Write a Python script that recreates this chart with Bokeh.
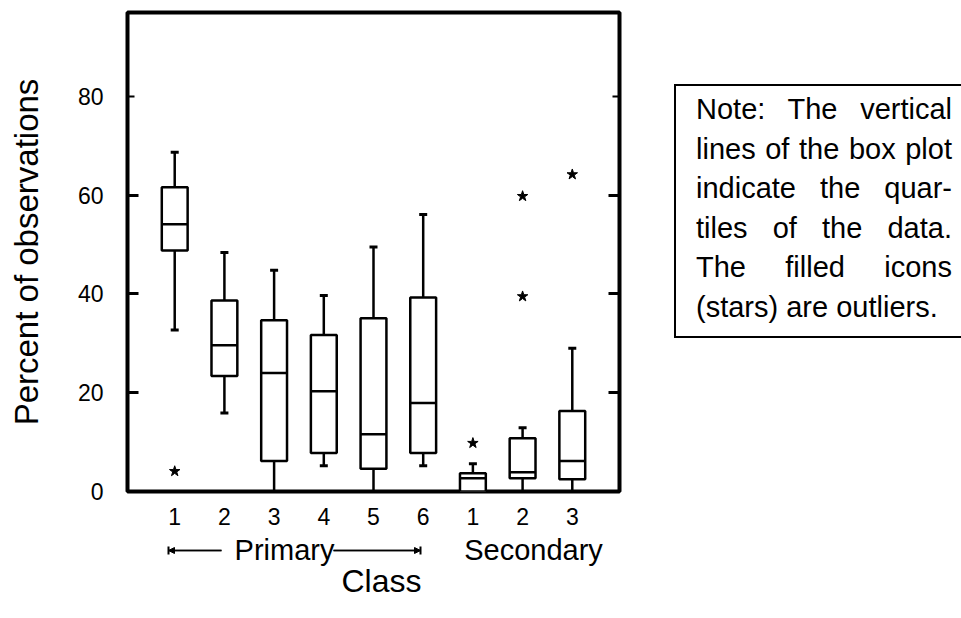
import numpy as np
from bokeh.plotting import figure
from bokeh.layouts import row, column
from bokeh.models import FixedTicker, LinearAxis, Arrow, NormalHead, TeeHead, Range1d, Div
from bokeh.core.properties import value
from bokeh.embed import file_html
from bokeh.resources import INLINE

# ---------------- data ----------------
class_labels = ["1", "2", "3", "4", "5", "6", "1", "2", "3"]
groups = ["Primary"] * 6 + ["Secondary"] * 3
group_names = ["Primary", "Secondary"]
positions = [1, 2, 3, 4, 5, 6, 7, 8, 9]
whisker_low = [32.7, 15.9, 0.0, 5.2, 0.0, 5.2, 0.0, 0.0, 0.0]
q1 = [48.8, 23.4, 6.2, 7.8, 4.6, 7.8, 0.0, 2.7, 2.5]
median = [54.1, 29.6, 24.0, 20.3, 11.6, 17.9, 2.7, 3.9, 6.2]
q3 = [61.6, 38.7, 34.7, 31.7, 35.1, 39.3, 3.7, 10.8, 16.3]
whisker_high = [68.7, 48.4, 44.8, 39.7, 49.5, 56.1, 5.6, 12.9, 29.0]
outlier_pos = [1, 7, 8, 8, 9]
outlier_val = [4.1, 9.8, 39.5, 59.8, 64.2]
y_ticks = [0, 20, 40, 60, 80]
note_lines = ["Note: The vertical", "lines of the box plot", "indicate the quar-",
              "tiles of the data.", "The filled icons", "(stars) are outliers."]

# ---------------- layout constants (page pixels) ----------------
PAGE_W, PAGE_H = 961, 618
MAIN_W, MAIN_H = 674, 534
FRAME_L, FRAME_T, FRAME_R, FRAME_B = 127, 12, 619, 491
X0, X1 = 0.05, 9.95
Y0, Y1 = 0.0, 97.0
FONT = "Liberation Sans"
BOX_W = 0.52
TICK_FONT = "23px"


def dx(px):
    """page pixel x -> data x (shared x range)"""
    return X0 + (px - FRAME_L) * (X1 - X0) / (FRAME_R - FRAME_L)


# ---------------- main box plot ----------------
p = figure(width=MAIN_W, height=MAIN_H, x_range=Range1d(X0, X1), y_range=Range1d(Y0, Y1),
           output_backend="svg", toolbar_location=None, margin=0,
           min_border_left=FRAME_L, min_border_top=FRAME_T,
           min_border_right=MAIN_W - FRAME_R, min_border_bottom=MAIN_H - FRAME_B)
p.grid.visible = False
p.outline_line_color = "black"
p.outline_line_width = 4
p.outline_line_alpha = 1.0
p.background_fill_color = "white"
p.border_fill_color = "white"

# left y axis
yax = p.yaxis[0]
yax.ticker = FixedTicker(ticks=y_ticks, minor_ticks=[20, 40, 60])
yax.axis_line_color = None
yax.major_tick_in = 7
yax.major_tick_out = 0
yax.major_tick_line_width = 2
yax.minor_tick_in = 11
yax.minor_tick_out = 0
yax.minor_tick_line_width = 3
yax.major_label_standoff = 24
yax.major_label_text_font = FONT
yax.major_label_text_font_size = TICK_FONT
yax.major_label_text_color = "black"
yax.axis_label = "Percent of observations"
yax.axis_label_text_font = FONT
yax.axis_label_text_font_size = "33px"
yax.axis_label_text_font_style = "normal"
yax.axis_label_text_color = "black"
yax.axis_label_standoff = 30

# right y axis: ticks only
rax = LinearAxis(ticker=FixedTicker(ticks=y_ticks, minor_ticks=[20, 40, 60]))
rax.axis_line_color = None
rax.major_tick_in = 7
rax.major_tick_out = 0
rax.major_tick_line_width = 2
rax.minor_tick_in = 11
rax.minor_tick_out = 0
rax.minor_tick_line_width = 3
rax.major_label_text_color = None
p.add_layout(rax, "right")

# x axis: class numbers
xax = p.xaxis[0]
xax.ticker = FixedTicker(ticks=positions)
xax.major_label_overrides = {pos: lab for pos, lab in zip(positions, class_labels)}
xax.axis_line_color = None
xax.major_tick_line_color = None
xax.minor_tick_line_color = None
xax.major_tick_in = 0
xax.major_tick_out = 0
xax.major_label_standoff = 16
xax.major_label_text_font = FONT
xax.major_label_text_font_size = TICK_FONT
xax.major_label_text_color = "black"

# boxes, whiskers, medians, outliers
xs = np.array(positions, dtype=float)
p.segment(x0=xs, y0=q3, x1=xs, y1=whisker_high, line_color="black", line_width=2.5)
p.segment(x0=xs, y0=q1, x1=xs, y1=whisker_low, line_color="black", line_width=2.5)
p.scatter(x=xs, y=whisker_high, marker="dash", size=8, line_color="black", line_width=3)
p.scatter(x=xs, y=whisker_low, marker="dash", size=8, line_color="black", line_width=3)
p.vbar(x=xs, width=BOX_W, bottom=q1, top=q3, fill_color="white",
       line_color="black", line_width=2.5)
p.segment(x0=xs - BOX_W / 2, y0=median, x1=xs + BOX_W / 2, y1=median,
          line_color="black", line_width=2.5)
p.scatter(x=outlier_pos, y=outlier_val, marker="star", size=11,
          fill_color="black", line_color="black", line_width=1)

# ---------------- strip below: group labels, arrows, axis title ----------------
q = figure(width=MAIN_W, height=PAGE_H - MAIN_H, x_range=p.x_range,
           y_range=Range1d(PAGE_H, MAIN_H),  # data y == page y
           output_backend="svg", toolbar_location=None, margin=0,
           x_axis_location=None, y_axis_location=None,
           min_border_left=FRAME_L, min_border_right=MAIN_W - FRAME_R,
           min_border_top=0, min_border_bottom=0)
q.outline_line_color = None
q.background_fill_color = "white"
q.border_fill_color = "white"
for g in q.grid:
    g.visible = False

GROUP_LABEL_PX = [284, 533]
GROUP_Y = 549
q.text(x=[dx(v) for v in GROUP_LABEL_PX], y=[GROUP_Y] * len(group_names), text=group_names,
       text_font=value(FONT), text_font_size=value("29px"), text_color="black",
       text_align="center", text_baseline="middle")

ARROW_Y = 550
for xa, xb in [(221, 168), (333, 420)]:
    q.add_layout(Arrow(x_start=dx(xa), y_start=ARROW_Y, x_end=dx(xb), y_end=ARROW_Y,
                       start=None, end=NormalHead(size=6, fill_color="black", line_color="black",
                                                  line_width=1),
                       line_width=1.5, line_color="black"))
    q.add_layout(Arrow(x_start=dx(xa), y_start=ARROW_Y, x_end=dx(xb), y_end=ARROW_Y,
                       start=None, end=TeeHead(size=8, line_width=2, line_color="black"),
                       line_width=1.5, line_color="black"))

q.text(x=[dx(381)], y=[580], text=["Class"], text_font=value(FONT),
       text_font_size=value("32px"), text_color="black",
       text_align="center", text_baseline="middle")

# ---------------- note box (justified text) ----------------
NOTE_W = PAGE_W - MAIN_W
line_divs = []
for i, line in enumerate(note_lines):
    last = i == len(note_lines) - 1
    align = "text-align:left;" if last else "text-align:justify; text-align-last:justify;"
    line_divs.append(f'<div style="{align} height:39.6px;">{line}</div>')
note_html = (
    '<div style="margin-top:84px; border:2px solid black; border-right:none; '
    'padding:4px 9px 8px 20px; width:256px; box-sizing:content-box; '
    f"font-family:'{FONT}'; font-size:29px; line-height:39.6px; color:black; "
    'background:white;">' + "".join(line_divs) + "</div>"
)
note = Div(text=note_html, width=NOTE_W, height=360, margin=0)

layout = row(column(p, q, spacing=0), note, spacing=0)
open("out.html", "w").write(file_html(layout, INLINE))
